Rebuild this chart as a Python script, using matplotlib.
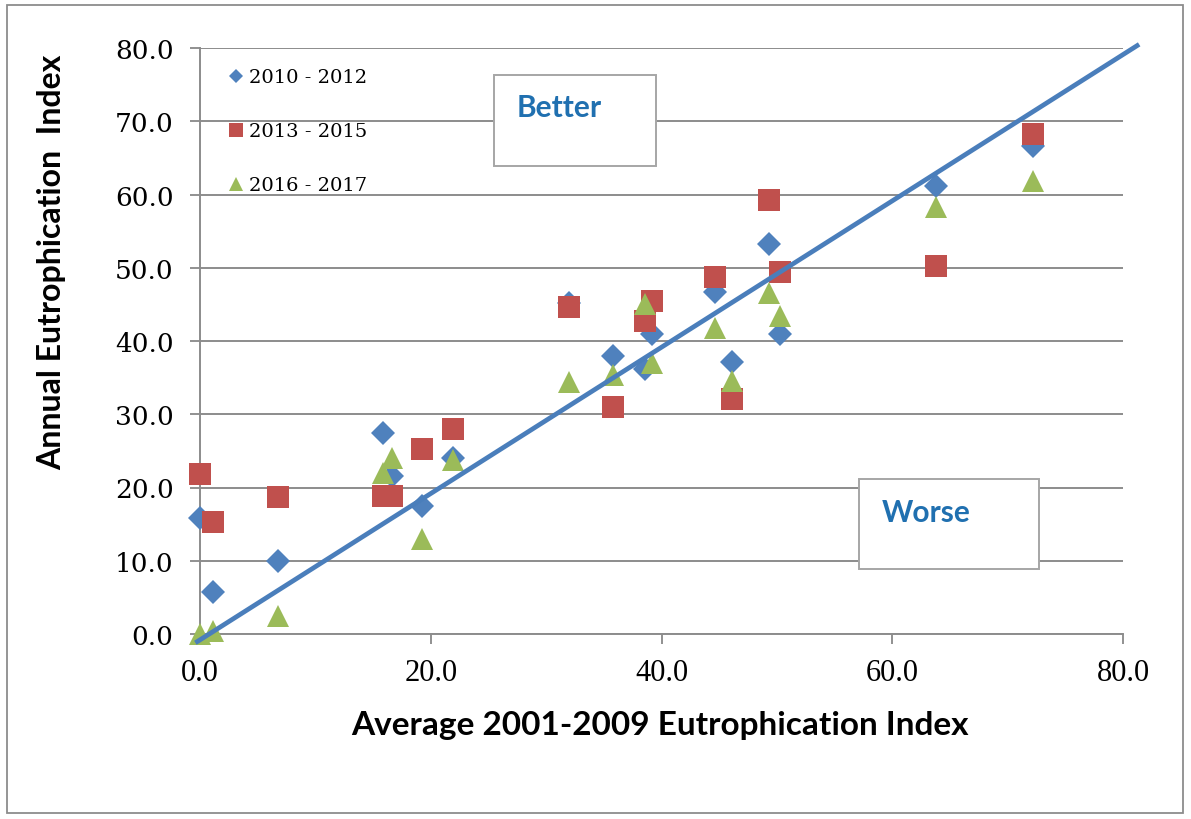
import numpy as np
import matplotlib
matplotlib.use('Agg')
import matplotlib.pyplot as plt
from matplotlib.patches import Rectangle

# Site averages 2001-2009 and annual index by period
avg_2001_2009 = [0.0, 1.1, 6.8, 15.9, 16.6, 19.2, 21.9, 32.0, 35.8, 38.6, 39.2,
                 44.6, 46.1, 49.3, 50.3, 63.8, 72.2]
idx_2010_2012 = [15.9, 5.7, 10.0, 27.5, 21.6, 17.5, 24.0, 45.2, 37.9, 36.2, 41.0,
                 46.7, 37.2, 53.3, 40.9, 61.2, 66.6]
idx_2013_2015 = [21.8, 15.3, 18.7, 18.8, 18.8, 25.2, 28.0, 44.7, 31.0, 42.7, 45.4,
                 48.8, 32.1, 59.2, 49.4, 50.2, 68.2]
idx_2016_2017 = [0.0, 0.4, 2.5, 22.0, 24.0, 13.0, 23.8, 34.4, 35.4, 45.0, 37.0,
                 41.8, 34.6, 46.6, 43.4, 58.3, 61.8]

# 1:1 reference line
ref_x = [-0.4, 81.4]
ref_y = [-1.2, 80.5]

ticks = [0, 10, 20, 30, 40, 50, 60, 70, 80]

blue = '#4F81BD'
red = '#C0504D'
green = '#9BBB59'

fig = plt.figure(figsize=(11.91, 8.2), dpi=100)
ax = fig.add_axes([200/1191, 185/820, 923/1191, 586/820])

ax.plot(avg_2001_2009, idx_2010_2012, 'D', color=blue, ms=12, mew=0,
        label='2010 - 2012', clip_on=False, zorder=3)
ax.plot(avg_2001_2009, idx_2013_2015, 's', color=red, ms=16, mew=0,
        label='2013 - 2015', clip_on=False, zorder=4)
ax.plot(avg_2001_2009, idx_2016_2017, '^', color=green, ms=16.5, mew=0,
        label='2016 - 2017', clip_on=False, zorder=5)
ax.plot(ref_x, ref_y, '-', color='#4A7EBB', lw=3.4, clip_on=False, zorder=6,
        solid_capstyle='butt')

ax.set_xlim(0, 80)
ax.set_ylim(0, 80)
ax.set_xticks(ticks[::2])
ax.set_yticks(ticks)
ax.set_xticklabels([f'{t:.1f}' for t in ticks[::2]], family='Liberation Serif', fontsize=22)
ax.set_yticklabels([f'{t:.1f}' for t in ticks], family='DejaVu Serif', fontsize=19)
ax.tick_params(axis='both', direction='out', length=7, width=1.3, color='#888888')
ax.tick_params(axis='x', pad=10)
ax.tick_params(axis='y', pad=12)

ax.grid(axis='y', color='#8c8c8c', lw=1.4, zorder=1)
ax.set_axisbelow(True)
for side in ['top', 'right']:
    ax.spines[side].set_visible(False)
for side in ['left', 'bottom']:
    ax.spines[side].set_color('#8c8c8c')
    ax.spines[side].set_linewidth(1.4)

# text boxes
ax.add_patch(Rectangle((0.3185, 0.7986), 0.1755, 0.155, transform=ax.transAxes,
                       facecolor='white', edgecolor='#a6a6a6', lw=1.4, zorder=2))
ax.text(0.3434, 0.899, 'Better', transform=ax.transAxes, ha='left', va='center',
        family='Lato', fontweight='bold', fontsize=21.5, color='#2070B0', zorder=2)
ax.add_patch(Rectangle((0.714, 0.111), 0.195, 0.1535, transform=ax.transAxes,
                       facecolor='white', edgecolor='#a6a6a6', lw=1.4, zorder=2))
ax.text(0.739, 0.208, 'Worse', transform=ax.transAxes, ha='left', va='center',
        family='Lato', fontweight='bold', fontsize=21.5, color='#2070B0', zorder=2)

leg = ax.legend(loc='upper left', bbox_to_anchor=(0.012, 0.995), frameon=False,
                prop={'family': 'DejaVu Serif', 'size': 14}, markerscale=0.6,
                labelspacing=1.85, handlelength=0.8, handletextpad=0.25)

fig.text(660/1191, 1 - 726/820, 'Average 2001-2009 Eutrophication Index',
         ha='center', va='center', family='Lato', fontweight='bold', fontsize=24)
fig.text(52/1191, 1 - 262/820, 'Annual Eutrophication  Index', rotation=90,
         ha='center', va='center', family='Lato', fontweight='bold', fontsize=23)

# outer frame
fig.patches.append(Rectangle((7/1191, 6/820), 1176/1191, 808/820,
                             transform=fig.transFigure, fill=False,
                             edgecolor='#8c8c8c', lw=1.3))

fig.savefig('out.png', dpi=100)
